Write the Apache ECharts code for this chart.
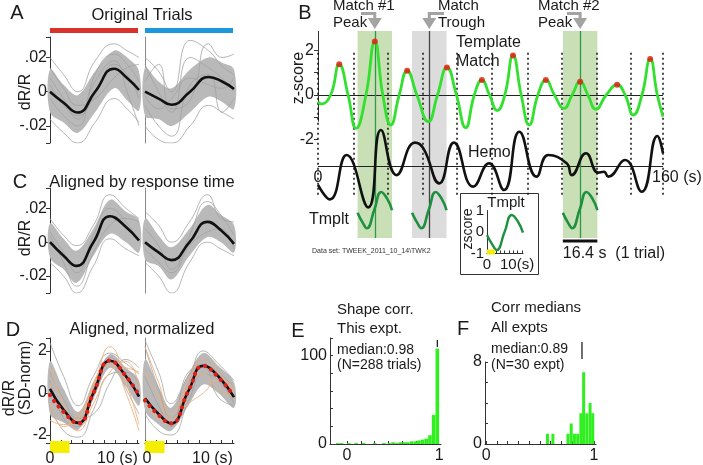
<!DOCTYPE html>
<html><head><meta charset="utf-8">
<script src="https://cdn.jsdelivr.net/npm/echarts@6/dist/echarts.min.js"></script>
<style>html,body{margin:0;padding:0;background:#fff}#c{width:703px;height:465px}</style>
</head><body><div id="c"></div>
<script>
// ---------------- DATA ----------------
const trialLen = 16.4;
const stimWin = [0, 3.6];
// Panel A (original trials)
const tA_L = [0, 2.5, 5.1, 8.3, 11.8, 14.2, 16.4];
const meanA_L = [0, -0.0065, -0.0122, 0.0, 0.0134, 0.008, 0.001];
const upA_L = [0.013, 0.004, -0.002, 0.012, 0.024, 0.020, 0.012];
const loA_L = [-0.012, -0.018, -0.024, -0.012, 0.002, -0.005, -0.011];
const grayA_L = [
  [0.020, 0.010, 0.000, 0.018, 0.028, 0.024, 0.020],
  [-0.016, -0.024, -0.030, -0.018, -0.004, -0.010, -0.018],
  [0.008, -0.004, -0.016, 0.006, 0.018, 0.000, -0.020],
  [-0.004, -0.014, -0.020, 0.010, 0.022, 0.016, 0.006],
  [0.014, 0.002, -0.008, -0.004, 0.008, 0.014, 0.016],
  [0.004, -0.008, -0.014, -0.002, 0.016, 0.010, -0.004]
];
const tA_R = [0, 2.5, 4.9, 8.3, 11.7, 14.2, 16.4];
const meanA_R = [0, -0.004, -0.0076, 0.0, 0.0086, 0.006, 0.0016];
const upA_R = [0.014, 0.006, 0.002, 0.013, 0.020, 0.017, 0.013];
const loA_R = [-0.014, -0.016, -0.020, -0.012, -0.003, -0.006, -0.010];
const grayA_R = [
  [0.020, 0.012, 0.000, 0.030, 0.024, 0.015, 0.010],
  [-0.020, -0.028, -0.030, -0.020, -0.008, -0.012, -0.016],
  [0.006, 0.016, -0.010, -0.005, 0.028, 0.020, 0.022],
  [-0.008, -0.020, -0.026, 0.004, 0.010, -0.012, -0.004],
  [0.016, 0.000, -0.012, 0.020, 0.014, 0.008, 0.000],
  [-0.002, -0.010, -0.004, 0.008, 0.004, 0.002, 0.008]
];
// Panel C (aligned by response time)
const tC_L = [0, 2.5, 4.9, 8.0, 11.06, 14.0, 16.4];
const meanC_L = [0, -0.008, -0.014, 0.0, 0.0153, 0.009, 0.001];
const upC_L = [0.011, 0.002, -0.005, 0.008, 0.025, 0.018, 0.013];
const loC_L = [-0.009, -0.016, -0.024, -0.008, 0.005, 0.0, -0.006];
const grayC_L = [
  [0.014, 0.004, -0.002, 0.010, 0.028, 0.020, 0.014],
  [-0.012, -0.020, -0.030, -0.014, 0.002, -0.004, -0.008],
  [0.006, -0.006, -0.018, 0.004, 0.020, 0.012, 0.000],
  [0.004, -0.012, -0.026, -0.006, 0.010, 0.014, 0.012]
];
const tC_R = [0, 2.5, 4.9, 8.2, 11.5, 14.0, 16.4];
const meanC_R = [0, -0.006, -0.0106, 0.0, 0.012, 0.007, -0.001];
const upC_R = [0.014, 0.004, -0.003, 0.008, 0.022, 0.016, 0.010];
const loC_R = [-0.010, -0.014, -0.022, -0.008, 0.003, 0.0, -0.006];
const grayC_R = [
  [0.018, 0.010, 0.000, 0.012, 0.028, 0.014, 0.012],
  [-0.012, -0.020, -0.030, -0.012, 0.000, -0.004, -0.008],
  [0.008, -0.002, -0.016, 0.004, 0.024, 0.016, 0.004],
  [-0.004, -0.012, -0.018, -0.002, 0.006, 0.008, -0.004]
];
// Panel D (aligned, normalized)
const tD_L = [0, 2.5, 5.2, 8.0, 11.06, 14.0, 16.4];
const meanD_L = [0.2, -0.8, -1.42, 0.0, 1.54, 0.8, -0.17];
const fitD_L = [-0.1, -0.9, -1.45, 0.0, 1.55, 0.8, -0.1];
const upD_L = [1.5, 0.2, -0.9, 0.5, 1.85, 1.2, 0.6];
const loD_L = [-1.0, -1.4, -1.75, -0.3, 1.2, 0.3, -0.6];
const grayD_L = [
  [2.4, 0.8, -0.6, 0.8, 1.9, 1.4, 0.9],
  [-0.6, -1.8, -2.1, -0.8, 0.9, 1.0, 0.4],
  [1.0, -0.3, -1.2, -1.0, 0.5, 1.6, 1.2],
  [0.6, -1.2, -1.6, 0.2, 1.7, 0.2, -1.0]
];
const orangeD_L = [
  [-1.3, -1.5, -1.2, 0.3, 2.2, 0.5, -1.5],
  [1.2, -0.5, -1.8, -0.5, 1.0, 1.5, 0.3],
  [0.5, -1.0, -1.3, 0.5, 1.6, 0.0, -1.8],
  [-0.5, -1.6, -1.0, 0.0, 1.3, 1.2, 1.0]
];
const tD_R = [0, 2.5, 4.8, 8.0, 10.75, 13.5, 16.4];
const meanD_R = [-0.25, -1.0, -1.45, 0.1, 1.3, 0.8, -0.2];
const fitD_R = [-0.35, -1.05, -1.45, 0.1, 1.3, 0.75, -0.15];
const upD_R = [1.6, 0.3, -0.7, 0.9, 1.9, 1.3, 0.5];
const loD_R = [-0.8, -1.5, -1.8, -0.6, 0.4, 0.0, -0.7];
const grayD_R = [
  [2.5, 1.0, -0.5, 0.8, 1.6, 1.0, 0.3],
  [2.2, 0.2, -1.2, 0.5, 2.0, 1.4, 0.6],
  [-1.0, -1.8, -2.0, -0.4, 0.9, 0.6, -0.5],
  [0.8, -0.6, -1.6, 1.0, 1.2, -0.2, -0.6]
];
const orangeD_R = [
  [1.0, -0.2, -1.2, -0.5, 0.0, 0.6, 0.3],
  [2.2, 0.5, -1.0, 0.3, 0.9, 0.2, -0.2],
  [-0.5, -1.2, -1.5, 0.6, 1.6, 1.0, 0.0]
];
// Panel B (template match on 160 s record): extrema and zero crossings
const tmT = [0, 1.4, 6.0, 10.1, 14.3, 18.1, 22.8, 27.0, 30.8, 34.6, 38.6, 42.4, 47.0, 52.4, 56.8, 61.3, 65.8, 70.2, 74.3, 77.9, 81.5, 85.2, 88.8, 92.7, 96.6, 100.4, 104.5, 108.3, 112.4, 116.9, 120.8, 124.6, 128.3, 132.1, 137.0, 142.2, 146.0, 149.9, 154.0, 157.9, 161.3, 164];
const tmV = [-0.3, -0.4, 0, 1.38, 0, -1.5, 0, 2.40, 0, -1.35, 0, 1.09, 0, -1.2, 0, 1.24, 0, -1.47, 0, 0.67, 0, -0.7, 0, 1.78, 0, -1.35, 0, 0.67, 0, -0.6, 0, 0.60, 0, -0.64, 0, 0.46, 0, -0.9, 0, 1.62, 0, -0.97];
const peakT = [10.1, 27.0, 42.4, 61.3, 77.9, 92.7, 108.3, 124.6, 142.2, 157.9];
const peakV = [1.38, 2.40, 1.09, 1.24, 0.67, 1.78, 0.67, 0.60, 0.46, 1.62];
const hemoT = [0, 5.7, 13.6, 23.9, 29.9, 37.4, 46.1, 50.1, 57.7, 64.6, 73.8, 81.3, 88.4, 95.7, 103.9, 109.5, 118.2, 120.6, 127.4, 133.2, 135.9, 138, 145.9, 153.9, 161.3, 164];
const hemoV = [-4.04, -4.69, -2.70, -5.05, -1.57, -3.60, -2.14, -2.40, -3.97, -2.14, -4.12, -3.07, -4.27, -1.65, -3.67, -2.70, -3.07, -3.60, -2.62, -3.49, -3.45, -3.67, -2.92, -4.35, -1.84, -2.62];
const hemoBase = -3.19;
const trialBounds = [0, 17.1, 33.3, 49.9, 66.1, 82.7, 99.8, 116.0, 132.6, 148.8, 164];
const matchPeakCenters = [27.0, 124.6];
const matchTroughCenters = [52.9];
// Template
const templT = [0, 2.5, 4.4, 8.0, 11.25, 14.0, 16.4];
const templV = [-0.14, -0.6, -0.84, 0.0, 0.79, 0.5, -0.03];
const templOffsetB = -5.15;
// Panel E histogram (shape correlation, this experiment)
const eX = [-0.1, -0.06, 0.02, 0.1, 0.18, 0.3, 0.4, 0.46, 0.5, 0.54, 0.58, 0.62, 0.66, 0.7, 0.74, 0.78, 0.82, 0.86, 0.9, 0.94, 0.98];
const eY = [1, 1, 1, 1, 1, 1, 1, 1, 2, 1, 2, 2, 2, 3, 3, 4, 5, 6, 10, 33, 108];
const eMedian = 0.98;
// Panel F histogram (corr medians, all experiments)
const fX = [0.57, 0.62, 0.76, 0.79, 0.82, 0.85, 0.88, 0.905, 0.935, 0.965, 0.99];
const fY = [1, 1, 1, 2, 1, 1, 3, 7, 3, 4, 3];
const fMedian = 0.89;

// ---------------- CHART ----------------
const FONT = "'Liberation Sans', Arial, Helvetica, sans-serif";
const TXT = '#1a1a1a';
const chart = echarts.init(document.getElementById('c'), null, {renderer: 'canvas'});

const grids = [
  {left: 50, top: 37, width: 89, height: 106},   // 0 A-L
  {left: 145, top: 37, width: 89, height: 106},  // 1 A-R
  {left: 50, top: 188, width: 89, height: 105},  // 2 C-L
  {left: 145, top: 188, width: 89, height: 105}, // 3 C-R
  {left: 50, top: 338, width: 89, height: 105},  // 4 D-L
  {left: 145, top: 338, width: 89, height: 105}, // 5 D-R
  {left: 318, top: 31, width: 345, height: 207}, // 6 B
  {left: 487, top: 210.5, width: 36, height: 43},// 7 inset
  {left: 330, top: 338, width: 111, height: 106},// 8 E
  {left: 485, top: 362, width: 111, height: 82}  // 9 F
];

const fmtDec = v => (v === 0 ? '0' : String(+v.toFixed(3)).replace('0.', '.'));
const lblStyle = {fontSize: 16, color: TXT, fontFamily: FONT};

function leftY(i, min, max, labels, ticks, fmt) {
  return {type: 'value', gridIndex: i, min, max, splitLine: {show: false},
    axisLine: {show: true, onZero: false, lineStyle: {color: '#333', width: 1}},
    axisTick: {show: true, inside: false, length: 4, customValues: ticks, lineStyle: {color: '#333'}},
    axisLabel: Object.assign({show: true, customValues: labels, margin: 3, formatter: fmt}, lblStyle)};
}
function rightY(i, min, max) {
  return {type: 'value', gridIndex: i, min, max, splitLine: {show: false},
    axisLine: {show: true, onZero: false, lineStyle: {color: '#8a8a8a', width: 1}},
    axisTick: {show: false}, axisLabel: {show: false}};
}
function hiddenX(i, min, max) {
  return {type: 'value', gridIndex: i, min, max, show: false, splitLine: {show: false}};
}
function tickX(i, min, max, ticks, labels, fmt) {
  return {type: 'value', gridIndex: i, min, max, splitLine: {show: false},
    axisLine: {show: true, onZero: false, lineStyle: {color: '#333', width: 1}},
    axisTick: {show: true, inside: true, length: 3, customValues: ticks, lineStyle: {color: '#333'}},
    axisLabel: labels ? Object.assign({show: true, customValues: labels, margin: 4, formatter: fmt}, lblStyle) : {show: false}};
}

const AY = [-0.030, 0.032];
const DY = [-2.38, 2.62];
const xAxes = [
  hiddenX(0, 0, trialLen), hiddenX(1, 0, trialLen), hiddenX(2, 0, trialLen), hiddenX(3, 0, trialLen),
  tickX(4, 0, trialLen, [0, 2, 4, 6, 8, 10, 12, 14, 16]),
  tickX(5, 0, trialLen, [0, 2, 4, 6, 8, 10, 12, 14, 16]),
  hiddenX(6, 0, 164),
  tickX(7, 0, trialLen, [0, 2, 4, 6, 8, 10, 12, 14, 16]),
  tickX(8, -0.185, 1.02, [0, 0.15, 0.3, 0.45, 0.6, 0.75, 0.9], [0, 1], v => String(v)),
  tickX(9, -0.01, 1.02, [0, 0.1, 0.2, 0.3, 0.4, 0.5, 0.6, 0.7, 0.8, 0.9, 1.0], [0, 1], v => String(v))
];
const yAxes = [
  leftY(0, AY[0], AY[1], [-0.02, 0, 0.02], [AY[0], -0.02, 0, 0.02, AY[1]], fmtDec),
  rightY(1, AY[0], AY[1]),
  leftY(2, AY[0], AY[1], [-0.02, 0, 0.02], [AY[0], -0.02, 0, 0.02, AY[1]], fmtDec),
  rightY(3, AY[0], AY[1]),
  leftY(4, DY[0], DY[1], [-2, 0, 2], [DY[0], -2, 0, 2, DY[1]], v => String(v)),
  rightY(5, DY[0], DY[1]),
  {type: 'value', gridIndex: 6, min: -6.427, max: 2.876, splitLine: {show: false},
    axisLine: {show: false}, axisTick: {show: true, inside: false, length: 4, customValues: [-2, -1, 0, 1, 2], lineStyle: {color: '#333'}},
    axisLabel: Object.assign({show: true, customValues: [-2, 0, 2], margin: 4}, lblStyle)},
  {type: 'value', gridIndex: 7, min: -1, max: 1, splitLine: {show: false},
    axisLine: {show: true, onZero: false, lineStyle: {color: '#333'}}, axisTick: {show: false},
    axisLabel: {show: true, customValues: [-1, 0, 1], margin: 3, fontSize: 15, color: TXT, fontFamily: FONT}},
  {type: 'value', gridIndex: 8, min: 0, max: 120, splitLine: {show: false},
    axisLine: {show: true, onZero: false, lineStyle: {color: '#333'}},
    axisTick: {show: true, inside: true, length: 3, customValues: [0, 20, 40, 60, 80, 100, 120], lineStyle: {color: '#333'}},
    axisLabel: Object.assign({show: true, customValues: [0, 100], margin: 3}, lblStyle)},
  {type: 'value', gridIndex: 9, min: 0, max: 8, splitLine: {show: false},
    axisLine: {show: true, onZero: false, lineStyle: {color: '#333'}},
    axisTick: {show: true, inside: true, length: 3, customValues: [0, 2, 4, 6, 8], lineStyle: {color: '#333'}},
    axisLabel: Object.assign({show: true, customValues: [0, 8], margin: 3}, lblStyle)}
];

const series = [];
function pairs(t, v, off, scale) { return t.map((x, i) => [x + (off || 0), (v[i] * (scale || 1))]); }
function line(gi, data, color, width, z, smooth) {
  return {type: 'line', xAxisIndex: gi, yAxisIndex: gi, data, smooth: smooth == null ? 0.5 : smooth,
    symbol: 'none', silent: true, z: z || 3, lineStyle: {color, width}};
}
function band(gi, t, up, lo, color) {
  return {type: 'custom', xAxisIndex: gi, yAxisIndex: gi, data: [[t[0], up[0]]], silent: true, z: 2,
    renderItem: (params, api) => {
      const pts = [];
      for (let i = 0; i < t.length; i++) pts.push(api.coord([t[i], up[i]]));
      for (let i = t.length - 1; i >= 0; i--) pts.push(api.coord([t[i], lo[i]]));
      return {type: 'polygon', shape: {points: pts, smooth: 0.35}, style: {fill: color}};
    }};
}
function addPanel(gi, t, mean, up, lo, grays, oranges, fit) {
  series.push(band(gi, t, up, lo, '#b9b9b9'));
  grays.forEach(g => series.push(line(gi, pairs(t, g), '#a2a2a2', 0.8, 3)));
  (oranges || []).forEach(o => series.push(line(gi, pairs(t, o), '#f2b07a', 0.9, 4)));
  series.push(line(gi, pairs(t, mean), '#111', 2.6, 6));
  if (fit) {
    const s = line(gi, pairs(t, fit), '#e0201c', 4, 7);
    s.lineStyle = {color: '#e0201c', width: 4.2, type: [0.1, 7], cap: 'round'};
    series.push(s);
  }
}
addPanel(0, tA_L, meanA_L, upA_L, loA_L, grayA_L);
addPanel(1, tA_R, meanA_R, upA_R, loA_R, grayA_R);
addPanel(2, tC_L, meanC_L, upC_L, loC_L, grayC_L);
addPanel(3, tC_R, meanC_R, upC_R, loC_R, grayC_R);
addPanel(4, tD_L, meanD_L, upD_L, loD_L, grayD_L, orangeD_L, fitD_L);
addPanel(5, tD_R, meanD_R, upD_R, loD_R, grayD_R, orangeD_R, fitD_R);

// Panel B
const half = trialLen / 2;
const GREEN_SH = '#c9e0b6', GRAY_SH = '#dcdcdc';
series.push({type: 'line', xAxisIndex: 6, yAxisIndex: 6, data: [[0, 0]], symbol: 'none', silent: true, z: 1,
  lineStyle: {opacity: 0},
  markArea: {silent: true, data:
    matchPeakCenters.map(c => [{xAxis: c - half, itemStyle: {color: GREEN_SH}}, {xAxis: c + half}])
      .concat(matchTroughCenters.map(c => [{xAxis: c - half, itemStyle: {color: GRAY_SH}}, {xAxis: c + half}]))},
  markLine: {silent: true, symbol: 'none', label: {show: false}, animation: false, data: [
    {yAxis: 0, lineStyle: {color: '#222', width: 1, type: 'solid'}},
    {yAxis: hemoBase, lineStyle: {color: '#222', width: 1, type: 'solid'}},
    [{coord: [0, 2.876], lineStyle: {color: '#333', width: 1, type: 'solid'}}, {coord: [0, -1.2]}]
  ].concat(trialBounds.map(b => [{coord: [b, 1.9], lineStyle: {color: '#111', width: 1.5, type: [2, 3]}}, {coord: [b, -4.5]}]))
   .concat(matchPeakCenters.map(c => ({xAxis: c, lineStyle: {color: '#2d9a48', width: 1.3, type: 'solid'}})))
   .concat(matchTroughCenters.map(c => ({xAxis: c, lineStyle: {color: '#444', width: 1.3, type: 'solid'}})))
  }
});
series.push(line(6, pairs(hemoT, hemoV), '#111', 2.6, 5, 0.5));
series.push(line(6, pairs(tmT, tmV), '#33e02f', 2.8, 6, 0.5));
series.push({type: 'scatter', xAxisIndex: 6, yAxisIndex: 6, data: pairs(peakT, peakV), symbol: 'circle', symbolSize: 6,
  itemStyle: {color: '#e3160f'}, silent: true, z: 8});
matchPeakCenters.concat(matchTroughCenters).forEach(c => {
  series.push(line(6, templT.map((t, i) => [c - half + t, templOffsetB + templV[i]]), '#1e9040', 2.6, 6, 0.5));
});
// Inset template
series.push(line(7, pairs(templT, templV), '#1e9040', 2.4, 6, 0.5));
// Histograms
series.push({type: 'bar', xAxisIndex: 8, yAxisIndex: 8, data: pairs(eX, eY), barWidth: 3.6, itemStyle: {color: '#2ef01e'}, silent: true});
series.push({type: 'bar', xAxisIndex: 9, yAxisIndex: 9, data: pairs(fX, fY), barWidth: 3, itemStyle: {color: '#2ef01e'}, silent: true});

chart.setOption({
  animation: false,
  backgroundColor: '#fff',
  textStyle: {fontFamily: FONT},
  grid: grids,
  xAxis: xAxes,
  yAxis: yAxes,
  series
});

// ---------------- GRAPHICS (text + positioned helpers) ----------------
function T(text, x, y, o) {
  o = o || {};
  return {type: 'text', x, y, rotation: o.rot || 0, z: 100, silent: true,
    style: {text, fontSize: o.size || 16, fontFamily: FONT, fill: o.color || TXT,
      align: o.align || 'left', verticalAlign: o.va || 'middle'}};
}
function L(x1, y1, x2, y2, color, w) {
  return {type: 'line', z: 100, silent: true, shape: {x1, y1, x2, y2}, style: {stroke: color, lineWidth: w}};
}
function R(x, y, w, h, fill, stroke, z) {
  return {type: 'rect', z: z == null ? 99 : z, silent: true, shape: {x, y, width: w, height: h},
    style: {fill: fill || 'none', stroke: stroke || null, lineWidth: 1}};
}
const P = (g, v) => chart.convertToPixel({gridIndex: g}, v);
const G = [];
// panel letters
G.push(T('A', 17, 13, {size: 20, align: 'center'}));
G.push(T('B', 305, 13, {size: 20, align: 'center'}));
G.push(T('C', 20, 182, {size: 20, align: 'center'}));
G.push(T('D', 13, 330, {size: 20, align: 'center'}));
G.push(T('E', 298, 331, {size: 20, align: 'center'}));
G.push(T('F', 463, 329, {size: 20, align: 'center'}));
// titles
G.push(T('Original Trials', 142, 15, {align: 'center', size: 16.5}));
G.push(R(50, 28, 88, 5, '#d9322b'));
G.push(R(145, 28, 88, 5, '#1e98dc'));
G.push(T('Aligned by response time', 142, 182, {align: 'center', size: 16.5}));
G.push(T('Aligned, normalized', 142, 329, {align: 'center', size: 16.5}));
// y labels
G.push(T('dR/R', 26, 92, {align: 'center', rot: Math.PI / 2}));
G.push(T('dR/R', 26, 238, {align: 'center', rot: Math.PI / 2}));
G.push(T('dR/R', 10, 398, {align: 'center', rot: Math.PI / 2}));
G.push(T('(SD-norm)', 26, 378, {align: 'center', rot: Math.PI / 2}));
G.push(T('z-score', 299, 78, {align: 'center', rot: Math.PI / 2}));
// D x labels
G.push(T('0', 50, 459, {align: 'center'}));
G.push(T('10 (s)', 97, 459));
G.push(T('0', 147, 459, {align: 'center'}));
G.push(T('10 (s)', 192, 459));
// stimulus yellow bars
[4, 5].forEach(g => {
  const a = P(g, [stimWin[0], 0]), b = P(g, [stimWin[1], 0]);
  G.push(R(a[0], 441, b[0] - a[0], 12, '#f5ee00'));
});
{
  const a = P(7, [stimWin[0], -1]), b = P(7, [stimWin[1], -1]);
  G.push(R(a[0], a[1] - 4, b[0] - a[0], 5, '#f5ee00'));
}
// Panel B annotations
G.push(T('Match #1', 333, 5.5, {size: 15}));
G.push(T('Peak', 333, 22.5, {size: 15}));
G.push(T('Match', 438, 5.5, {size: 15}));
G.push(T('Trough', 438, 22.5, {size: 15}));
G.push(T('Match #2', 538, 5.5, {size: 15}));
G.push(T('Peak', 538, 22.5, {size: 15}));
const AR = '#a3a3a3';
function arrow(xFrom, xTo) {
  G.push({type: 'polyline', z: 100, silent: true, shape: {points: [[xFrom, 13.5], [xTo, 13.5], [xTo, 19]]}, style: {stroke: AR, lineWidth: 3, fill: 'none'}});
  G.push({type: 'polygon', z: 100, silent: true, shape: {points: [[xTo - 7, 18], [xTo + 7, 18], [xTo, 29]]}, style: {fill: AR}});
}
arrow(361, P(6, [matchPeakCenters[0], 0])[0]);
arrow(444, P(6, [matchTroughCenters[0], 0])[0]);
arrow(567, P(6, [matchPeakCenters[1], 0])[0]);
G.push(T('Template', 456, 43));
G.push(T('Match', 456, 62));
G.push(T('Hemo', 468, 153));
G.push(T('Tmplt', 309, 220));
G.push(T('0', 318, 178, {align: 'center'}));
G.push(T('160 (s)', 652, 178));
G.push(T('Data set: TWEEK_2011_10_14\\TWK2', 312, 251, {size: 7, color: '#333'}));
{
  const c = matchPeakCenters[1];
  const a = P(6, [c - half, 0]), b = P(6, [c + half, 0]);
  G.push(L(a[0], 241, b[0], 241, '#111', 3));
  G.push(T('16.4 s  (1 trial)', a[0], 254));
}
// inset box + labels
G.push(R(460.5, 193.5, 78, 81, 'none', '#333', 0));
G.push(T('zscore', 468, 229, {size: 14, align: 'center', rot: Math.PI / 2}));
G.push(T('Tmplt', 506, 203, {size: 15, align: 'center'}));
G.push(T('0', 487, 265, {size: 15, align: 'center'}));
G.push(T('10(s)', 500, 265, {size: 15}));
// Panel E / F texts
G.push(T('Shape corr.', 337, 310, {size: 15}));
G.push(T('This expt.', 337, 329, {size: 15}));
G.push(T('median:0.98', 337, 350, {size: 14}));
G.push(T('(N=288 trials)', 337, 365, {size: 14}));
G.push(T('Corr medians', 491, 308, {size: 15}));
G.push(T('All expts', 491, 328, {size: 15}));
G.push(T('median:0.89', 491, 349, {size: 14}));
G.push(T('(N=30 expt)', 491, 365, {size: 14}));
{
  const e = P(8, [eMedian, 0]);
  G.push(L(e[0], 340, e[0], 347, '#111', 1.2));
  const f = P(9, [fMedian, 0]);
  G.push(L(f[0], 342, f[0], 359, '#111', 1.2));
}
chart.setOption({graphic: G});
</script>
</body></html>
